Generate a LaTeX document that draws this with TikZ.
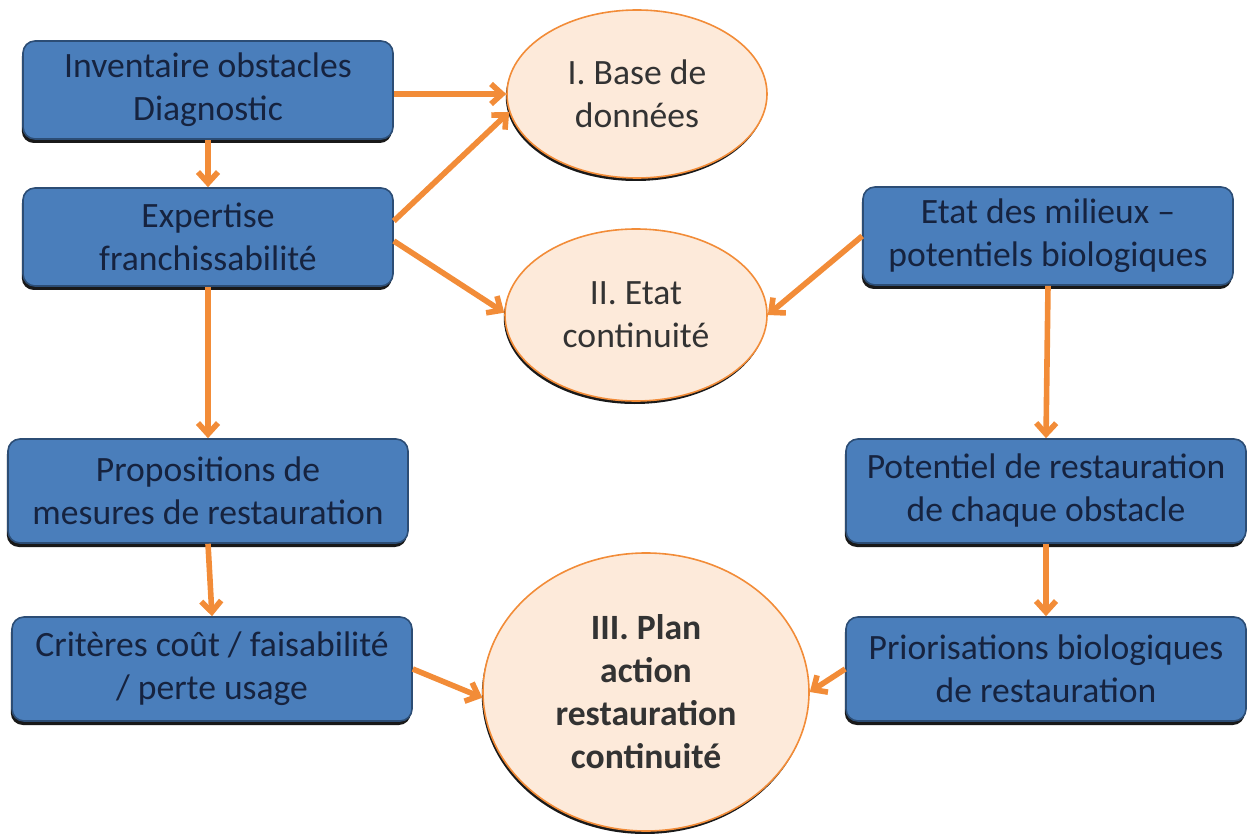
\documentclass[tikz,border=0pt]{standalone}
\usepackage{fontspec}
\setmainfont{Carlito}
\usetikzlibrary{shapes.geometric,arrows.meta,shadows}
\definecolor{boxblue}{HTML}{4A7EBB}
\definecolor{boxedge}{HTML}{2C4D75}
\definecolor{boxtext}{HTML}{16233F}
\definecolor{peach}{HTML}{FDEADA}
\definecolor{flow}{HTML}{F28C38}

\begin{document}
\begin{tikzpicture}[x=0.5pt, y=-0.5pt,
  box/.style={draw=boxedge, line width=0.8pt, fill=boxblue, rounded corners=6pt,
    align=center, text=boxtext, font=\fontsize{17.8}{21.5}\selectfont, inner sep=1pt,
    drop shadow={shadow xshift=-0.6pt, shadow yshift=-2pt, fill=black, opacity=0.9}},
  narrow/.style={box, minimum width=185pt, minimum height=49pt},
  wide/.style={box, minimum width=200pt, minimum height=52pt},
  oval/.style={ellipse, draw=flow, line width=0.8pt, fill=peach, align=center,
    text=black!80, font=\fontsize{17.8}{21.5}\selectfont, inner sep=0pt,
    drop shadow={shadow xshift=-0.6pt, shadow yshift=-1.5pt, fill=black, opacity=0.9}},
  link/.style={draw=flow, line width=2.8pt, -{Straight Barb[length=5.5pt, width=10pt]}}]
\useasboundingbox (0,0) rectangle (1253,834);

% left column
\node[narrow] (inv) at (208,90) {Inventaire obstacles\\Diagnostic};
\node[narrow] (expe) at (208,237) {Expertise\\franchissabilité};
\node[wide] (prop) at (208,491) {Propositions de\\mesures de restauration};
\node[wide] (crit) at (212,669) {Critères coût / faisabilité\\/ perte usage};

% right column
\node[narrow] (etat) at (1048,236) {Etat des milieux --\\potentiels biologiques};
\node[wide] (pot) at (1046,491) {Potentiel de restauration\\de chaque obstacle};
\node[wide] (prio) at (1046,669) {Priorisations biologiques\\de restauration};

% results
\node[oval, minimum width=130pt, minimum height=84pt] (base) at (637,94) {I. Base de\\données};
\node[oval, minimum width=131pt, minimum height=86pt] (cont) at (636,315) {II. Etat\\continuité};
\node[oval, minimum width=163pt, minimum height=139pt, font=\fontsize{17.8}{21.5}\selectfont\bfseries] (plan) at (646,692) {III. Plan\\action\\restauration\\continuité};

\draw[link] (inv.east |- base.west) -- (base.west);
\draw[link] (inv.south) -- (expe.north);
\draw[link] ([yshift=8pt]expe.east) -- (base.188);
\draw[link] ([yshift=-2pt]expe.east) -- (cont.179);
\draw[link] (expe.south) -- (prop.north);
\draw[link] (prop.south) -- (crit.north);
\draw[link] (etat.west) -- (cont.east);
\draw[link] (etat.south) -- (pot.north);
\draw[link] (pot.south) -- (prio.north);
\draw[link] (crit.east) -- (plan.182);
\draw[link] (prio.west) -- (plan.east);
\end{tikzpicture}
\end{document}
